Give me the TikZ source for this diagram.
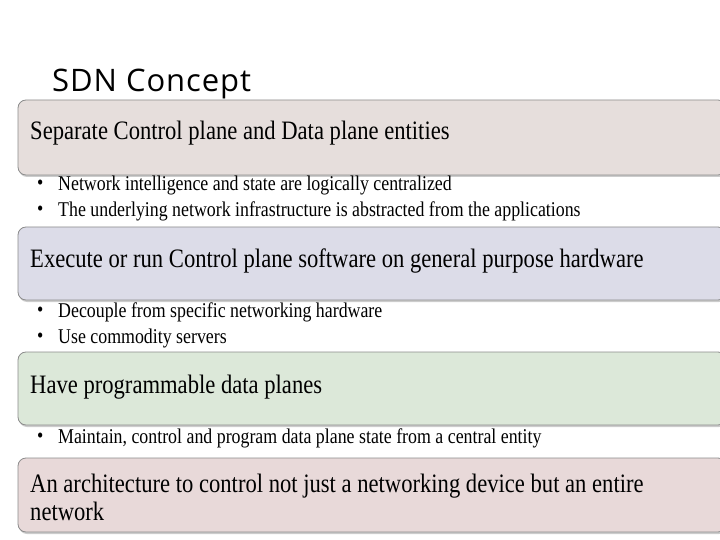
\documentclass[tikz,border=0pt]{standalone}
\usepackage{fontspec}
\setmainfont{Liberation Serif}
\newfontfamily\narrowserif[FakeStretch=0.85]{Liberation Serif}
\newfontfamily\titlefont[LetterSpace=3]{Open Sans}
\usetikzlibrary{shadows}
\begin{document}
\begin{tikzpicture}[x=1pt,y=-1pt,
  band/.style={draw=black!45, line width=0.8pt, rounded corners=8pt, drop shadow={shadow xshift=1pt,shadow yshift=-2pt,opacity=0.4}},
  head/.style={anchor=west, font=\narrowserif\fontsize{26.6}{28}\selectfont, align=left, inner sep=0pt},
  bul/.style={anchor=west, font=\narrowserif\fontsize{21}{23}\selectfont, inner sep=0pt}]
\useasboundingbox (0,0) rectangle (720,540);
\definecolor{c1}{HTML}{E6DEDC}\definecolor{c2}{HTML}{DCDCE8}
\definecolor{c3}{HTML}{DCE8D9}\definecolor{c4}{HTML}{E8D9D9}
\node[anchor=base west, font=\titlefont\fontsize{31}{34}\selectfont, inner sep=0pt] (t) at (52,92) {SDN Concept};
\fill[band, fill=c1] (18,100) rectangle (726,175);
\fill[band, fill=c2] (18,227) rectangle (726,300);
\fill[band, fill=c3] (18,352) rectangle (726,425);
\fill[band, fill=c4] (18,458) rectangle (726,532);
\node[head] (h1) at (30,133) {Separate Control plane and Data plane entities};
\node[head] (h2) at (30,261) {Execute or run Control plane software on general purpose hardware};
\node[head] (h3) at (30,387) {Have programmable data planes};
\node[head] (h4) at (30,497) {An architecture to control not just a networking device but an entire\\network};
\foreach \y/\t [count=\i] in {185/Network intelligence and state are logically centralized,
  211/The underlying network infrastructure is abstracted from the applications,
  312/Decouple from specific networking hardware,
  338/Use commodity servers,
  438/{Maintain, control and program data plane state from a central entity}}{
  \node[bul] (d\i) at (37,\y) {\textbullet};
  \node[bul] (b\i) at (58,\y) {\t};
}
\end{tikzpicture}
\end{document}
